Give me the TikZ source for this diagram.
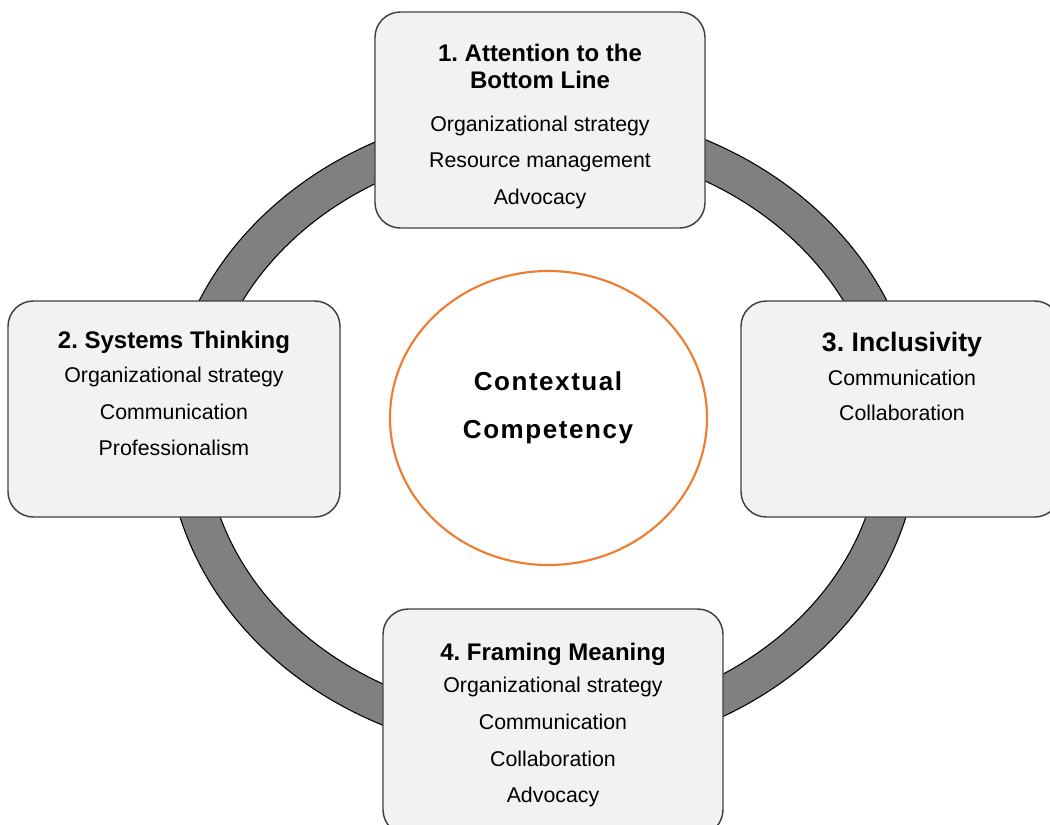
\documentclass[tikz,border=0pt]{standalone}
\usepackage{fontspec}
\setmainfont{Liberation Sans}
\usetikzlibrary{shapes.geometric}
\definecolor{ringgray}{HTML}{808080}
\definecolor{cardfill}{HTML}{F2F2F2}
\definecolor{cardline}{HTML}{404040}
\definecolor{coreorange}{HTML}{ED7D31}
\tikzset{
  card/.style={draw=cardline, fill=cardfill, line width=1.1pt, rounded corners=19pt, inner sep=0pt},
  body/.style={anchor=base, inner sep=0pt, font=\fontsize{16}{19}\selectfont},
  head/.style={anchor=base, inner sep=0pt, font=\fontsize{18}{21}\selectfont\bfseries},
  bighead/.style={anchor=base, inner sep=0pt, font=\fontsize{20}{23}\selectfont\bfseries},
  coretext/.style={anchor=base, inner sep=0pt, font=\fontsize{19.5}{23}\selectfont\bfseries\addfontfeature{LetterSpace=6}},
  ring/.style={draw=black, line width=0.8pt, fill=ringgray, even odd rule},
  core/.style={ellipse, draw=coreorange, line width=1.6pt, fill=white, inner sep=0pt}
}
\frenchspacing
\begin{document}
\begin{tikzpicture}[x=0.75pt, y=-0.75pt]
\useasboundingbox (0,0) rectangle (1050,825);
\clip (0,0) rectangle (1050,825);
% ring
\draw[ring] (543,432) ellipse (376 and 324) (543,432) ellipse (338 and 286);
% cards
\node[card, minimum width=247.5pt, minimum height=162pt] (c1) at (540,120) {};
\node[card, minimum width=249pt, minimum height=162pt] (c2) at (174,409) {};
\node[card, minimum width=239.25pt, minimum height=162pt] (c3) at (900.5,409) {};
\node[card, minimum width=255pt, minimum height=169.5pt] (c4) at (553,722) {};
% centre
\node[core, minimum width=237.75pt, minimum height=220.5pt] (core) at (548.5,418) {};
\node[coretext] (t0a) at (548,390.7) {Contextual};
\node[coretext] (t0b) at (548,438.3) {Competency};
% card 1
\node[head] (t1h1) at (540,61) {1. Attention to the};
\node[head] (t1h2) at (540,88.5) {Bottom Line};
\node[body] (t1a) at (540,131) {Organizational strategy};
\node[body] (t1b) at (540,167.5) {Resource management};
\node[body] (t1c) at (540,204) {Advocacy};
% card 2
\node[head] (t2h) at (174,348.3) {2. Systems Thinking};
\node[body] (t2a) at (174,382.7) {Organizational strategy};
\node[body] (t2b) at (174,419.3) {Communication};
\node[body] (t2c) at (174,455) {Professionalism};
% card 3
\node[bighead] (t3h) at (902,351.7) {3. Inclusivity};
\node[body] (t3a) at (902,385.7) {Communication};
\node[body] (t3b) at (902,420.7) {Collaboration};
% card 4
\node[head] (t4h) at (553,660) {4. Framing Meaning};
\node[body] (t4a) at (553,692.7) {Organizational strategy};
\node[body] (t4b) at (553,729.3) {Communication};
\node[body] (t4c) at (553,766.7) {Collaboration};
\node[body] (t4d) at (553,802.5) {Advocacy};
\end{tikzpicture}
\end{document}
